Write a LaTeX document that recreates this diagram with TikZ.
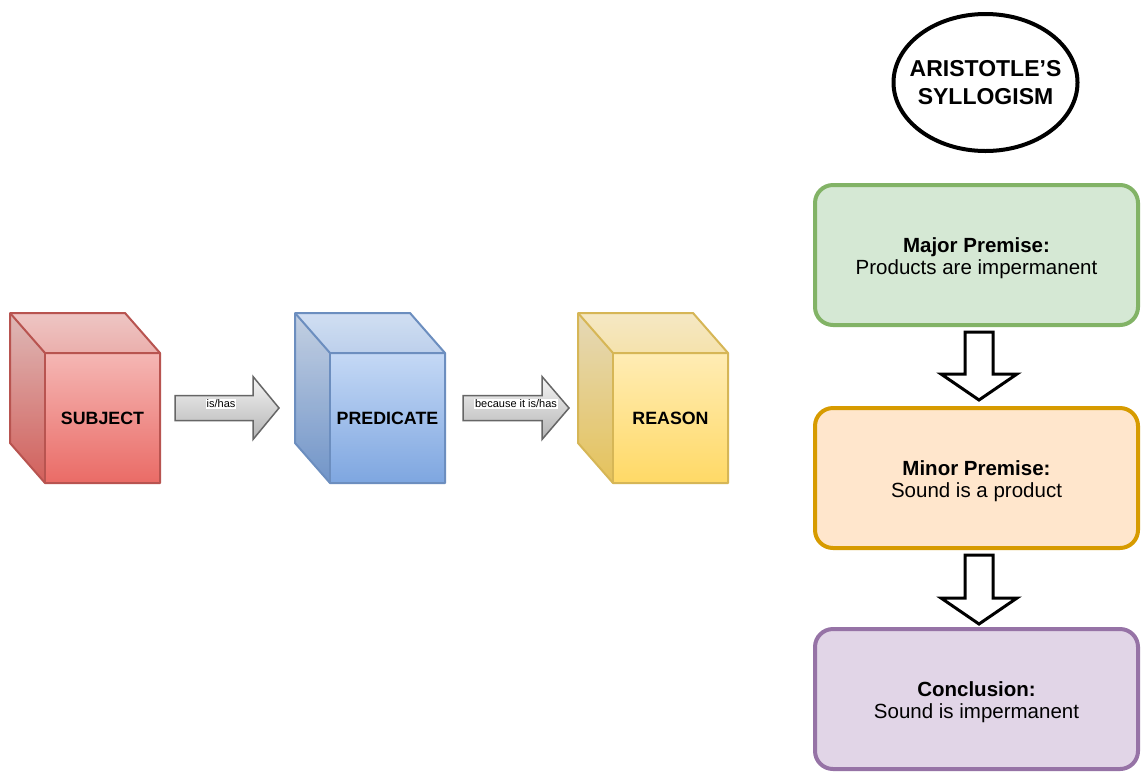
\documentclass[tikz,border=0pt]{standalone}
\usepackage{fontspec}
\setmainfont{Liberation Sans}
\usetikzlibrary{calc}
\definecolor{redA}{HTML}{F8CECC}
\definecolor{redB}{HTML}{EA6B66}
\definecolor{redS}{HTML}{B85450}
\definecolor{bluA}{HTML}{DAE8FC}
\definecolor{bluB}{HTML}{7EA6E0}
\definecolor{bluS}{HTML}{6C8EBF}
\definecolor{yelA}{HTML}{FFF2CC}
\definecolor{yelB}{HTML}{FFD966}
\definecolor{yelS}{HTML}{D6B656}
\definecolor{grnF}{HTML}{D5E8D4}
\definecolor{grnS}{HTML}{82B366}
\definecolor{orgF}{HTML}{FFE6CC}
\definecolor{orgS}{HTML}{D79B00}
\definecolor{purF}{HTML}{E1D5E7}
\definecolor{purS}{HTML}{9673A6}
\definecolor{arrA}{HTML}{F5F5F5}
\definecolor{arrB}{HTML}{B3B3B3}
\definecolor{arrS}{HTML}{666666}
\tikzset{
  cubelabel/.style={minimum width=115, minimum height=130, inner sep=0, font=\fontsize{17.8}{21}\selectfont\bfseries},
  arrlabel/.style={fill=white, inner sep=1, font=\fontsize{11}{13}\selectfont},
  rbox/.style={rounded corners=18, line width=4, minimum width=323, minimum height=140},
  boxtext/.style={align=center, inner sep=0, font=\fontsize{20.5}{22.5}\selectfont},
  blockarrow/.style={top color=arrA, bottom color=arrB, draw=arrS, line width=1.5, line join=miter},
  downarrow/.style={draw=black, fill=white, line width=3, line join=miter},
}
\newcommand{\drawcube}[7]{%
  \shade[top color=#4, bottom color=#5] (#2,#3) -- ++(115,0) -- ++(35,40) -- ++(0,130) -- ++(-115,0) -- ++(-35,-40) -- cycle;
  \fill[black, opacity=0.10] (#2,#3) -- ++(35,40) -- ++(0,130) -- ++(-35,-40) -- cycle;
  \fill[black, opacity=0.04] (#2,#3) -- ++(115,0) -- ++(35,40) -- ++(-115,0) -- cycle;
  \draw[draw=#6, line width=2, line join=round] (#2,#3) -- ++(115,0) -- ++(35,40) -- ++(0,130) -- ++(-115,0) -- ++(-35,-40) -- cycle;
  \draw[draw=#6, line width=2] (#2,#3) -- ++(35,40) -- ++(115,0);
  \draw[draw=#6, line width=2] (#2+35,#3+40) -- ++(0,130);
  \node[cubelabel] (#1) at (#2+92.5,#3+105) {#7};
}
\newcommand{\harrow}[4]{%
  \shadedraw[blockarrow] (#1,#4-12.5) -- (#2,#4-12.5) -- (#2,#4-31.5) -- (#3,#4) -- (#2,#4+31.5) -- (#2,#4+12.5) -- (#1,#4+12.5) -- cycle;
}
\begin{document}
\begin{tikzpicture}[x=1pt,y=-1pt]
\useasboundingbox[fill=white] (0,0) rectangle (1142,772);

% cubes
\drawcube{subj}{10}{313}{redA}{redB}{redS}{SUBJECT}
\drawcube{pred}{295}{313}{bluA}{bluB}{bluS}{PREDICATE}
\drawcube{reas}{578}{313}{yelA}{yelB}{yelS}{REASON}

% block arrows between cubes
\harrow{175}{253}{279}{408}
\node[arrlabel] (l1) at (221,404) {is/has};
\harrow{463}{542}{569}{408}
\node[arrlabel] (l2) at (516,404) {because it is/has};

% title
\node[align=center, inner sep=0, font=\fontsize{23}{28.5}\selectfont\bfseries] (title) at (985.5,82.5) {ARISTOTLE’S\\SYLLOGISM};
\draw[line width=4] (title.center) ellipse [x radius=92, y radius=68.5];

% premise boxes
\node[rbox, fill=grnF, draw=grnS] (major) at (976.5,255) {};
\node[boxtext] (majort) at ($(major.center)+(0,3)$) {\textbf{Major Premise:}\\Products are impermanent};
\node[rbox, fill=orgF, draw=orgS] (minor) at (976.5,478) {};
\node[boxtext] (minort) at ($(minor.center)+(0,3)$) {\textbf{Minor Premise:}\\Sound is a product};
\node[rbox, fill=purF, draw=purS] (concl) at (976.5,699) {};
\node[boxtext] (conclt) at ($(concl.center)+(0,3)$) {\textbf{Conclusion:}\\Sound is impermanent};

% down arrows
\draw[downarrow] (965,332) -- (993,332) -- (993,374) -- (1017,374) -- (979,400) -- (941,374) -- (965,374) -- cycle;
\draw[downarrow] (965,555) -- (993,555) -- (993,598) -- (1017,598) -- (979,624) -- (941,598) -- (965,598) -- cycle;
\end{tikzpicture}
\end{document}
